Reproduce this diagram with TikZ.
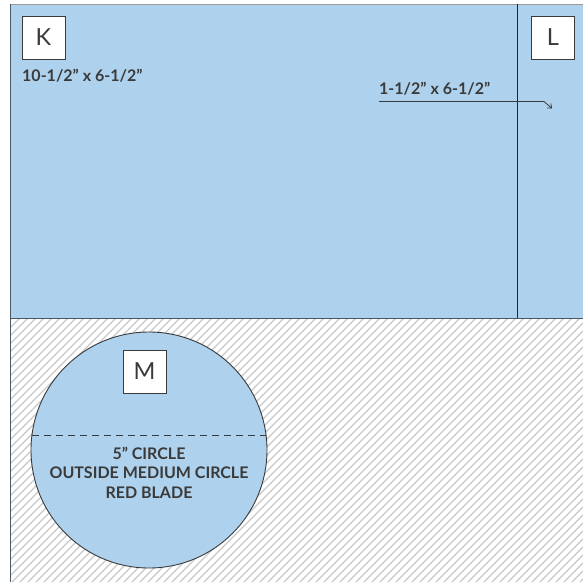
\documentclass[tikz,border=0pt]{standalone}
\usepackage{fontspec}
\setmainfont{Lato}
\usetikzlibrary{arrows.meta}
\definecolor{paneblue}{HTML}{AED2EE}
\definecolor{txtgray}{HTML}{3A3A3A}
\definecolor{edgegray}{HTML}{4A5866}
\definecolor{hatchgray}{HTML}{C8C8C8}
\newcommand{\inchmark}{\char34\relax}
\tikzset{
  letterbox/.style={draw=txtgray, fill=white, line width=0.8pt, minimum width=43pt, minimum height=43pt, inner sep=0pt, font=\fontsize{23.5}{23.5}\selectfont, text=txtgray},
  dimlabel/.style={font=\bfseries\fontsize{16}{18}\selectfont, text=txtgray, inner sep=0pt},
  circlabel/.style={font=\bfseries\fontsize{16}{19.5}\selectfont, text=txtgray, inner sep=0pt, align=center},
}
\begin{document}
\begin{tikzpicture}[x=1pt,y=-1pt]
\useasboundingbox (0,0) rectangle (583,582);
% blue upper panel
\fill[paneblue] (10,4) rectangle (583,318);
% hatched lower area
\fill[white] (10,318) rectangle (583,582);
\begin{scope}
\clip (10,318) rectangle (583,582);
\foreach \i in {-300,-292,...,600} {
  \draw[hatchgray, line width=1.2pt] (\i,582) -- (\i+264,318);
}
\end{scope}
% borders
\draw[gray!80, line width=1pt] (10,4) -- (583,4);
\draw[edgegray, line width=1pt] (10,4) -- (10,582);
\draw[edgegray, line width=1pt] (10,318) -- (583,318);
\draw[black!85, line width=0.9pt] (517,4) -- (517,318);
% circle
\node[circle, draw=txtgray, fill=paneblue, line width=0.9pt, minimum size=236pt, inner sep=0pt] (circ) at (149,450) {};
\coordinate (chordL) at (32,435);
\coordinate (chordR) at (266,435);
\draw[txtgray, dashed, dash pattern=on 7pt off 5pt, line width=0.8pt] (chordL) -- (chordR);
\node[circlabel] (ctext) at (149,472.5) {5\inchmark{} CIRCLE\\OUTSIDE MEDIUM CIRCLE\\RED BLADE};
% boxes
\node[letterbox] (K) at (43.5,37.5) {K};
\node[letterbox] (L) at (553,37.5) {L};
\node[letterbox] (M) at (144.5,371.5) {M};
% dimension labels
\node[dimlabel, anchor=west] (kdim) at (22,75.5) {10-1/2\inchmark{} x 6-1/2\inchmark};
\node[dimlabel, anchor=west] (ldim) at (379,88.5) {1-1/2\inchmark{} x 6-1/2\inchmark};
\coordinate (astart) at (379,101.5);
\coordinate (abend) at (544,101.5);
\coordinate (aend) at (552,108.5);
\draw[txtgray, line width=0.8pt, -{Straight Barb[length=3.5pt,width=6pt]}] (astart) -- (abend) -- (aend);
\end{tikzpicture}
\end{document}
